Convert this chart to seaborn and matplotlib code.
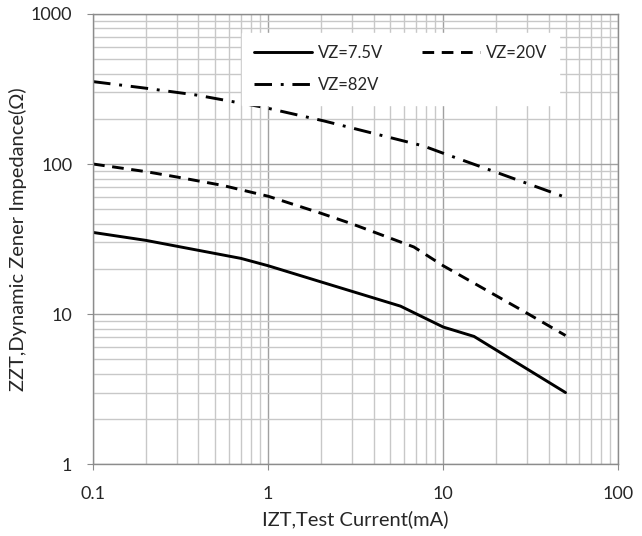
import pandas as pd
import matplotlib.pyplot as plt
import seaborn as sns
from matplotlib.ticker import LogLocator, FixedLocator, NullFormatter

# VZ=7.5V
x_75 = [0.1, 0.2, 0.7, 1, 2, 5.7, 10, 15, 50]
y_75 = [35, 31, 23.5, 21, 16.4, 11.3, 8.2, 7.1, 3.0]

# VZ=20V
x_20 = [0.1, 0.2, 0.3, 0.55, 1, 2, 3, 6.8, 10, 29, 50]
y_20 = [100, 89, 82, 72, 61, 47, 40, 28, 21, 10.4, 7.2]

# VZ=82V
x_82 = [0.1, 0.2, 0.39, 0.94, 2.07, 7.7, 10, 18.6, 50]
y_82 = [354, 320, 288, 239, 194, 132, 118, 91, 60]

labels = ["VZ=7.5V", "VZ=20V", "VZ=82V"]
x_ticks = [0.1, 1, 10, 100]
x_tick_labels = ["0.1", "1", "10", "100"]
y_ticks = [1, 10, 100, 1000]
y_tick_labels = ["1", "10", "100", "1000"]

sns.set_style("white")
plt.rcParams['font.family'] = ['Lato', 'DejaVu Sans']

fig = plt.figure(figsize=(6.42, 5.36), dpi=100)
ax = fig.add_axes([0.145, 0.134, 0.818, 0.840])

styles = [None, (4, 2.6), (6, 3, 1, 3)]
series = [(x_75, y_75), (x_20, y_20), (x_82, y_82)]
for (xs, ys), lab, dash in zip(series, labels, styles):
    df = pd.DataFrame({"I": xs, "Z": ys})
    sns.lineplot(data=df, x="I", y="Z", ax=ax, color="black",
                 linewidth=2.1, label=lab, estimator=None, sort=False)
    if dash is not None:
        ax.lines[-1].set_dashes(dash)

ax.set_xscale("log")
ax.set_yscale("log")
ax.set_xlim(0.1, 100)
ax.set_ylim(1, 1000)

ax.xaxis.set_major_locator(FixedLocator(x_ticks))
ax.set_xticklabels(x_tick_labels)
ax.yaxis.set_major_locator(FixedLocator(y_ticks))
ax.set_yticklabels(y_tick_labels)
ax.xaxis.set_minor_locator(LogLocator(base=10, subs=range(2, 10)))
ax.yaxis.set_minor_locator(LogLocator(base=10, subs=range(2, 10)))
ax.xaxis.set_minor_formatter(NullFormatter())
ax.yaxis.set_minor_formatter(NullFormatter())

ax.grid(which="minor", color="#c8c8c8", linewidth=1.0)
ax.grid(which="major", color="#a0a0a0", linewidth=1.0)
ax.set_axisbelow(True)

for s in ax.spines.values():
    s.set_color("#8c8c8c")
    s.set_linewidth(1.0)

ax.tick_params(which="major", direction="out", length=4, color="#8c8c8c",
               labelsize=13, bottom=True, left=True)
ax.tick_params(axis="x", which="major", pad=12)
ax.tick_params(axis="y", which="major", pad=11)
ax.tick_params(which="minor", length=0)

ax.set_xlabel("IZT,Test Current(mA)", fontsize=14.5, labelpad=6)
ax.set_ylabel("ZZT,Dynamic Zener Impedance(Ω)", fontsize=14.5, labelpad=3)

# column-major fill: put 82V second so it lands under 7.5V
handles, labs = ax.get_legend_handles_labels()
order = [0, 2, 1]
ax.legend([handles[i] for i in order], [labs[i] for i in order],
          loc="upper left", bbox_to_anchor=(0.284, 0.958), ncol=2,
          borderaxespad=0, frameon=True, fancybox=False, edgecolor="white",
          facecolor="white", framealpha=1.0, fontsize=12, handlelength=3.5,
          columnspacing=2.3, borderpad=0.7, labelspacing=1.0, handletextpad=0.35)

plt.savefig("out.png", dpi=100)
